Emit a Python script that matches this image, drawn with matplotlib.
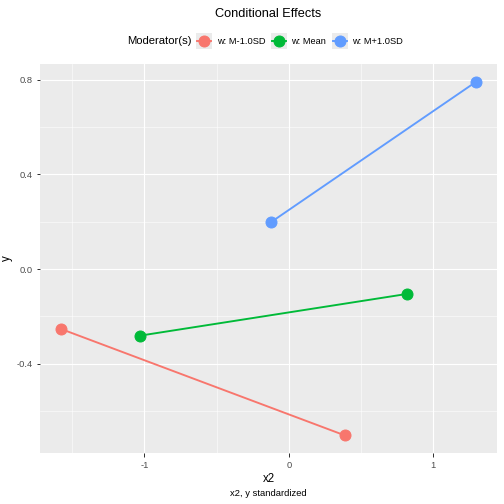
import matplotlib
matplotlib.use('Agg')
import matplotlib.pyplot as plt
from matplotlib.lines import Line2D
from matplotlib.patches import Rectangle

# values
groups = ['w: M-1.0SD', 'w: Mean', 'w: M+1.0SD']
colors = ['#F8766D', '#00BA38', '#619CFF']
x_start = [-1.579, -1.034, -0.124]
x_end = [0.386, 0.821, 1.297]
y_start = [-0.253, -0.282, 0.198]
y_end = [-0.703, -0.105, 0.792]

xticks = [-1, 0, 1]
xminor = [-1.5, -0.5, 0.5]
yticks = [-0.4, 0.0, 0.4, 0.8]
yminor = [-0.6, -0.2, 0.2, 0.6]


class KeyHandler:
    # grey square key with a point and a short line, like ggplot
    def legend_artist(self, legend, orig_handle, fontsize, handlebox):
        x0, y0 = -handlebox.xdescent, -handlebox.ydescent
        w, h = handlebox.width, handlebox.height
        cy = y0 + h / 2
        tr = handlebox.get_transform()
        c = orig_handle.get_color()
        rect = Rectangle((x0, cy - w / 2), w, w, facecolor='#EBEBEB', edgecolor='none',
                         transform=tr, zorder=0)
        ln = Line2D([x0 + 1, x0 + w - 1], [cy, cy], color=c, lw=1.9, transform=tr, zorder=1)
        pt = Line2D([x0 + w / 2], [cy], marker='o', markersize=11, color=c,
                    linestyle='none', transform=tr, zorder=2)
        handlebox.add_artist(rect)
        handlebox.add_artist(ln)
        handlebox.add_artist(pt)
        return rect


plt.rcParams['font.family'] = ['Liberation Sans', 'DejaVu Sans']

fig = plt.figure(figsize=(7, 7), dpi=72)
ax = fig.add_axes([40/504, 51/504, 457/504, 389/504])
ax.set_facecolor('#EBEBEB')
for s in ax.spines.values():
    s.set_visible(False)

lines = []
for i in range(len(groups)):
    l, = ax.plot([x_start[i], x_end[i]], [y_start[i], y_end[i]], color=colors[i],
                 lw=1.9, marker='o', markersize=11, zorder=3, solid_capstyle='butt')
    lines.append(l)

allx = x_start + x_end
ally = y_start + y_end
dx = (max(allx) - min(allx)) * 0.05
dy = (max(ally) - min(ally)) * 0.05
ax.set_xlim(min(allx) - dx, max(allx) + dx)
ax.set_ylim(min(ally) - dy, max(ally) + dy)

ax.set_xticks(xticks)
ax.set_xticklabels(['-1', '0', '1'])
ax.set_yticks(yticks)
ax.set_yticklabels(['-0.4', '0.0', '0.4', '0.8'])
ax.set_xticks(xminor, minor=True)
ax.set_yticks(yminor, minor=True)
ax.grid(which='major', color='white', lw=1.1, zorder=0)
ax.grid(which='minor', color='white', lw=0.55, zorder=0)
ax.set_axisbelow(True)
ax.tick_params(which='major', length=3.5, width=1.0, color='#333333',
               labelsize=9.3, labelcolor='#4D4D4D', pad=4)
ax.tick_params(which='minor', length=0)

ax.set_xlabel('x2', fontsize=11.5, labelpad=3)
ax.set_ylabel('y', fontsize=11.5, labelpad=3)

fig.text(268.5/504, 1 - 14/504, 'Conditional Effects', ha='center', va='center', fontsize=12.8)
fig.text(268.5/504, 1 - 494/504, 'x2, y standardized', ha='center', va='center', fontsize=9.4)

fig.text(192/504, 1 - 41/504, 'Moderator(s)', ha='right', va='center', fontsize=11.2)
leg = fig.legend(lines, groups, loc='center left', bbox_to_anchor=(195/504, 1 - 41/504),
                 ncol=3, frameon=False, fontsize=9.2, handlelength=1.8, handleheight=1.8,
                 handletextpad=0.45, columnspacing=0.6, borderpad=0.1, borderaxespad=0,
                 handler_map={Line2D: KeyHandler()})

fig.savefig('out.png', dpi=72)
